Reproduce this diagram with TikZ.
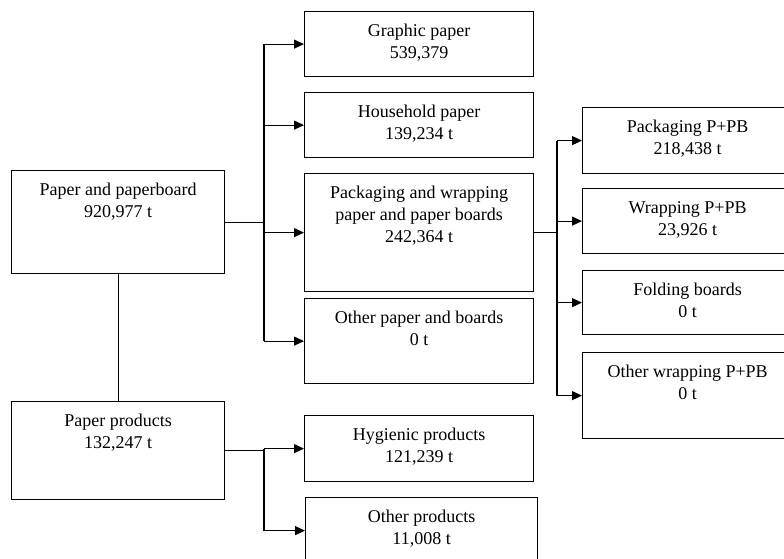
\documentclass[tikz,border=0pt]{standalone}
\usepackage{fontspec}
\setmainfont{Liberation Serif}
\usetikzlibrary{arrows.meta}

\begin{document}
\begin{tikzpicture}[x=1pt,y=-1pt,line width=1.2pt,
  box/.style={draw, anchor=north west, inner sep=0pt},
  lbl/.style={anchor=north, inner sep=0pt, yshift=-9pt, align=center,
    font=\fontsize{18}{22}\selectfont},
  arr/.style={-{Triangle[length=10pt,width=9pt]}}]
\useasboundingbox (0,0) rectangle (784,558);
% left column
\node[box, minimum width=213, minimum height=103,
  label={[lbl]north:\strut Paper and paperboard\\920,977 t}] (pp) at (11,170) {};
\node[box, minimum width=213, minimum height=98,
  label={[lbl]north:\strut Paper products\\132,247 t}] (pprod) at (11,401) {};
% middle column
\node[box, minimum width=229, minimum height=65,
  label={[lbl]north:\strut Graphic paper\\539,379}] (graphic) at (304,11) {};
\node[box, minimum width=229, minimum height=65,
  label={[lbl]north:\strut Household paper\\139,234 t}] (household) at (304,92) {};
\node[box, minimum width=229, minimum height=118,
  label={[lbl]north:\strut Packaging and wrapping\\paper and paper boards\\242,364 t}] (packwrap) at (304,173) {};
\node[box, minimum width=229, minimum height=85,
  label={[lbl]north:\strut Other paper and boards\\0 t}] (otherpb) at (304,298) {};
\node[box, minimum width=229, minimum height=66,
  label={[lbl]north:\strut Hygienic products\\121,239 t}] (hygienic) at (304,415) {};
\node[box, minimum width=232, minimum height=66,
  label={[lbl]north:\strut Other products\\11,008 t}] (otherprod) at (305,497) {};
% right column
\node[box, minimum width=210, minimum height=66,
  label={[lbl]north:\strut Packaging P+PB\\218,438 t}] (packpb) at (582,107) {};
\node[box, minimum width=210, minimum height=65,
  label={[lbl]north:\strut Wrapping P+PB\\23,926 t}] (wrappb) at (582,188) {};
\node[box, minimum width=210, minimum height=64,
  label={[lbl]north:\strut Folding boards\\0 t}] (folding) at (582,270) {};
\node[box, minimum width=210, minimum height=86,
  label={[lbl]north:\strut Other wrapping P+PB\\0 t}] (otherwrap) at (582,352) {};
% branch points
\coordinate (t1) at (264,0);
\coordinate (t2) at (557,0);
% connectors
\draw (pp.south) -- (pprod.north);
\draw (pp.east) -- (pp.east -| t1);
\draw (graphic.west -| t1) -- (otherpb.west -| t1);
\foreach \n in {graphic,household,packwrap,otherpb}
  \draw[arr] (\n.west -| t1) -- (\n.west);
\draw (pprod.east) -- (pprod.east -| t1);
\draw (hygienic.west -| t1) -- (otherprod.west -| t1);
\foreach \n in {hygienic,otherprod}
  \draw[arr] (\n.west -| t1) -- (\n.west);
\draw (packwrap.east) -- (packwrap.east -| t2);
\draw (packpb.west -| t2) -- (otherwrap.west -| t2);
\foreach \n in {packpb,wrappb,folding,otherwrap}
  \draw[arr] (\n.west -| t2) -- (\n.west);
\end{tikzpicture}
\end{document}
